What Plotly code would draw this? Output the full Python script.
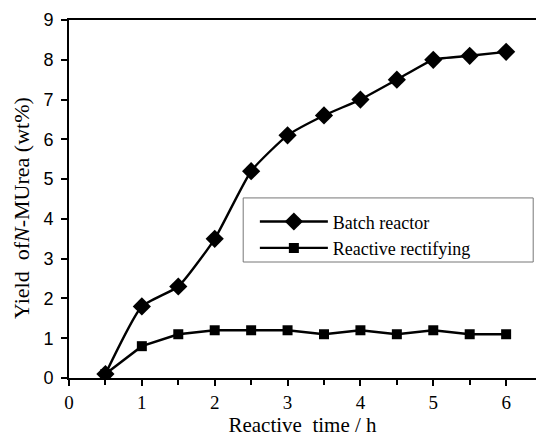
import plotly.graph_objects as go

time_h = [0.5, 1, 1.5, 2, 2.5, 3, 3.5, 4, 4.5, 5, 5.5, 6]
batch_reactor = [0.1, 1.8, 2.3, 3.5, 5.2, 6.1, 6.6, 7.0, 7.5, 8.0, 8.1, 8.2]
reactive_rectifying = [0.1, 0.8, 1.1, 1.2, 1.2, 1.2, 1.1, 1.2, 1.1, 1.2, 1.1, 1.1]

x_ticks = [0, 1, 2, 3, 4, 5, 6]
y_ticks = [0, 1, 2, 3, 4, 5, 6, 7, 8, 9]

serif = "Liberation Serif"
sans = "Liberation Sans"

fig = go.Figure()
fig.add_trace(go.Scatter(
    x=time_h, y=batch_reactor, name="Batch reactor",
    mode="lines+markers",
    line=dict(color="black", width=2.4, shape="spline", smoothing=0.5),
    marker=dict(symbol="diamond", size=14, color="black"),
))
fig.add_trace(go.Scatter(
    x=time_h, y=reactive_rectifying, name="Reactive rectifying",
    mode="lines+markers",
    line=dict(color="black", width=2.4),
    marker=dict(symbol="square", size=10, color="black"),
))

fig.update_layout(
    width=536, height=437,
    margin=dict(l=69, r=0, t=20, b=59, autoexpand=False),
    paper_bgcolor="white", plot_bgcolor="white",
    showlegend=True,
    legend=dict(
        x=0.398, y=0.488, xanchor="left", yanchor="top",
        borderwidth=0, bgcolor="rgba(0,0,0,0)",
        font=dict(family=serif, size=18, color="black"),
        tracegroupgap=0, itemwidth=68,
    ),
    shapes=[dict(
        type="rect", xref="paper", yref="paper",
        x0=0.373, x1=0.994, y0=0.324, y1=0.503,
        line=dict(color="#777", width=1), fillcolor="white", layer="above",
    )],
    annotations=[dict(
        text="Yield  of<i>N</i>-MUrea (wt%)", xref="paper", yref="paper",
        x=-0.1006, y=0.475, xanchor="center", yanchor="middle",
        textangle=-90, showarrow=False,
        font=dict(family=serif, size=22, color="black"),
    )],
    xaxis=dict(
        range=[0, 6.41], tickvals=x_ticks, ticktext=[str(v) for v in x_ticks],
        showline=True, linecolor="black", linewidth=2,
        ticks="outside", ticklen=6, tickwidth=1.5, tickcolor="black",
        minor=dict(dtick=0.5, tick0=0, ticks="outside", ticklen=5, tickwidth=1.5, tickcolor="black"),
        mirror=True, showgrid=False, zeroline=False, automargin=False,
        tickfont=dict(family=serif, size=19, color="black"),
        title=dict(text="Reactive  time / h", font=dict(family=serif, size=21, color="black"), standoff=6),
    ),
    yaxis=dict(
        range=[0, 9], tickvals=y_ticks,
        showline=True, linecolor="black", linewidth=2,
        ticks="outside", ticklen=6, tickwidth=1.5, tickcolor="black",
        showgrid=False, zeroline=False, automargin=False,
        ticklabelstandoff=4,
        tickfont=dict(family=sans, size=18, color="black"),
    ),
)

fig.write_html("out.html", post_script="document.body.style.margin='0';",
               config={"displayModeBar": False})
